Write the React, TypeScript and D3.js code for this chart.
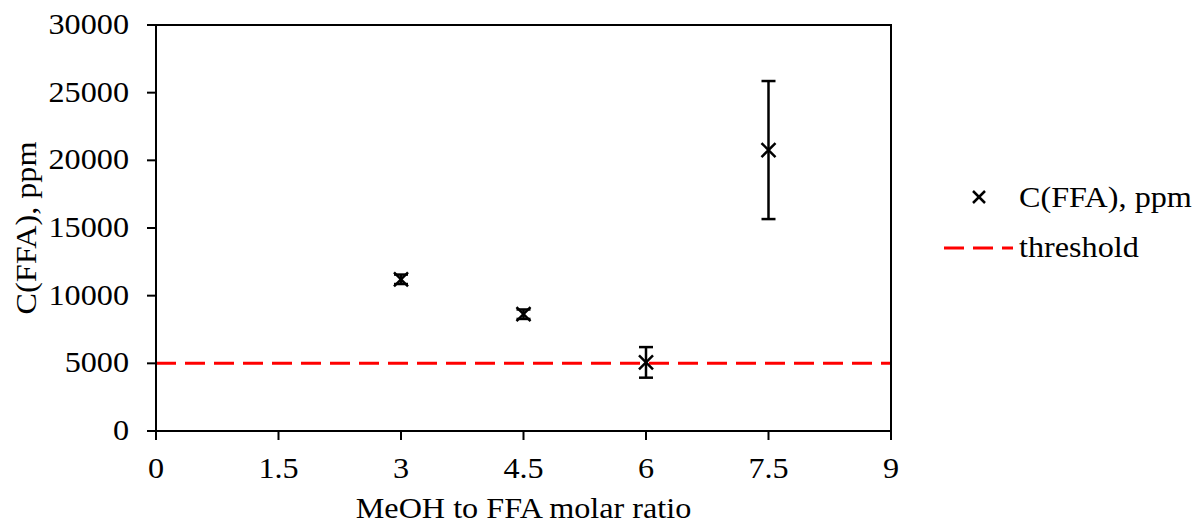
import React from "react";
import * as d3 from "d3";

const ratios = [3, 4.5, 6, 7.5];
const ffa = [11210, 8630, 5070, 20760];
const errs = [350, 350, 1130, 5100];
const threshold = 5000;
const xTicks = [0, 1.5, 3, 4.5, 6, 7.5, 9];
const yTicks = [0, 5000, 10000, 15000, 20000, 25000, 30000];

const W = 1197, H = 525;
const L = 156, R = 891, T = 25, B = 431;
const FONT = "'Liberation Serif', 'Times New Roman', serif";
const FS = 28.5;
const SX = 1.13;

function T2({ x, y, anchor = "start", rot = 0, children }: any) {
  return (
    <text
      transform={`translate(${x},${y}) rotate(${rot}) scale(${SX},1)`}
      textAnchor={anchor}
      fontFamily={FONT}
      fontSize={FS}
      fill="#000"
    >
      {children}
    </text>
  );
}

export default function App() {
  const x = d3.scaleLinear().domain([0, 9]).range([L, R]);
  const y = d3.scaleLinear().domain([0, 30000]).range([B, T]);
  const m = 7;
  const cap = 7;
  return (
    <svg width={W} height={H} style={{ position: "absolute", left: 0, top: 0 }}>
      <rect x={0} y={0} width={W} height={H} fill="#fff" />
      <line x1={x(0)} x2={x(9)} y1={y(threshold)} y2={y(threshold)} stroke="#ff0000" strokeWidth={3} strokeDasharray="20 9" />
      <rect x={L} y={T} width={R - L} height={B - T} fill="none" stroke="#000" strokeWidth={2} />
      {yTicks.map((t) => (
        <g key={"y" + t}>
          <line x1={L - 9} x2={L} y1={y(t)} y2={y(t)} stroke="#000" strokeWidth={2} />
          <T2 x={129} y={y(t) + 9} anchor="end">{t}</T2>
        </g>
      ))}
      {xTicks.map((t) => (
        <g key={"x" + t}>
          <line x1={x(t)} x2={x(t)} y1={B} y2={B + 9} stroke="#000" strokeWidth={2} />
          <T2 x={x(t)} y={478} anchor="middle">{t}</T2>
        </g>
      ))}
      <T2 x={(L + R) / 2} y={518} anchor="middle">MeOH to FFA molar ratio</T2>
      <T2 x={36} y={(T + B) / 2} anchor="middle" rot={-90}>C(FFA), ppm</T2>
      {ratios.map((r, i) => {
        const cx = x(r), cy = y(ffa[i]);
        const yt = y(ffa[i] + errs[i]), yb = y(ffa[i] - errs[i]);
        return (
          <g key={"p" + i} stroke="#000" strokeWidth={2.5}>
            <line x1={cx} x2={cx} y1={yt} y2={yb} />
            <line x1={cx - cap} x2={cx + cap} y1={yt} y2={yt} />
            <line x1={cx - cap} x2={cx + cap} y1={yb} y2={yb} />
            <line x1={cx - m} x2={cx + m} y1={cy - m} y2={cy + m} />
            <line x1={cx - m} x2={cx + m} y1={cy + m} y2={cy - m} />
          </g>
        );
      })}
      <g stroke="#000" strokeWidth={2.5}>
        <line x1={979 - 6} x2={979 + 6} y1={197 - 6} y2={197 + 6} />
        <line x1={979 - 6} x2={979 + 6} y1={197 + 6} y2={197 - 6} />
      </g>
      <T2 x={1019} y={207}>C(FFA), ppm</T2>
      <line x1={944} x2={1013} y1={248} y2={248} stroke="#ff0000" strokeWidth={3} strokeDasharray="20 9" />
      <T2 x={1019} y={257}>threshold</T2>
    </svg>
  );
}
